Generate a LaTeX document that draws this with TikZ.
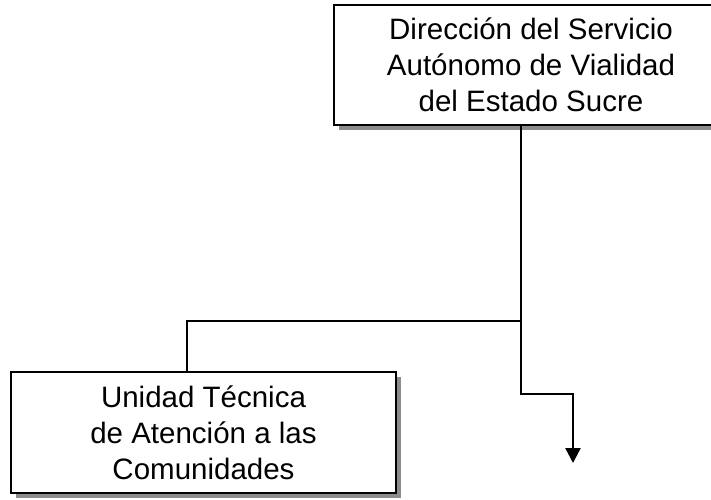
\documentclass[tikz,border=0pt]{standalone}
\usepackage{fontspec}
\setmainfont{Liberation Sans}
\usetikzlibrary{arrows.meta,shadows}

\begin{document}
\begin{tikzpicture}[
            x=1pt, y=-1pt,
            line width=2.3pt,
            every node/.style = {shape=rectangle, draw, line width=2.8pt, fill=white, align=center, inner sep=0pt,
                                 font=\fontsize{29.5}{36}\selectfont,
                                 drop shadow={shadow xshift=4.5pt, shadow yshift=-4.5pt, fill=gray!90, opacity=1}},
            jefe/.style = {minimum width=394pt, minimum height=120pt},
            unidad/.style = {minimum width=385pt, minimum height=121pt}
        ]
        \useasboundingbox (0,0) rectangle (711,499);
        \clip (0,0) rectangle (711,499);

        \node[jefe] (dir) at (531,65) {\raisebox{-3pt}{\parbox{380pt}{\centering Dirección del Servicio \\ Autónomo de Vialidad \\ del Estado Sucre}}};
        \node[unidad] (uni) at (203.5,432.5) {Unidad Técnica \\ de Atención a las \\ Comunidades};

        \coordinate (j) at (521,321);
        \coordinate (k) at (187,321);
        \coordinate (m) at (521,394);
        \coordinate (e) at (573,463);

        \draw (j |- dir.south) -- (j);
        \draw (j) -- (k) -- (k |- uni.north);
        \draw[-{Triangle[width=15pt,length=15pt]}] (j) -- (m) -| (e);
    \end{tikzpicture}
\end{document}
